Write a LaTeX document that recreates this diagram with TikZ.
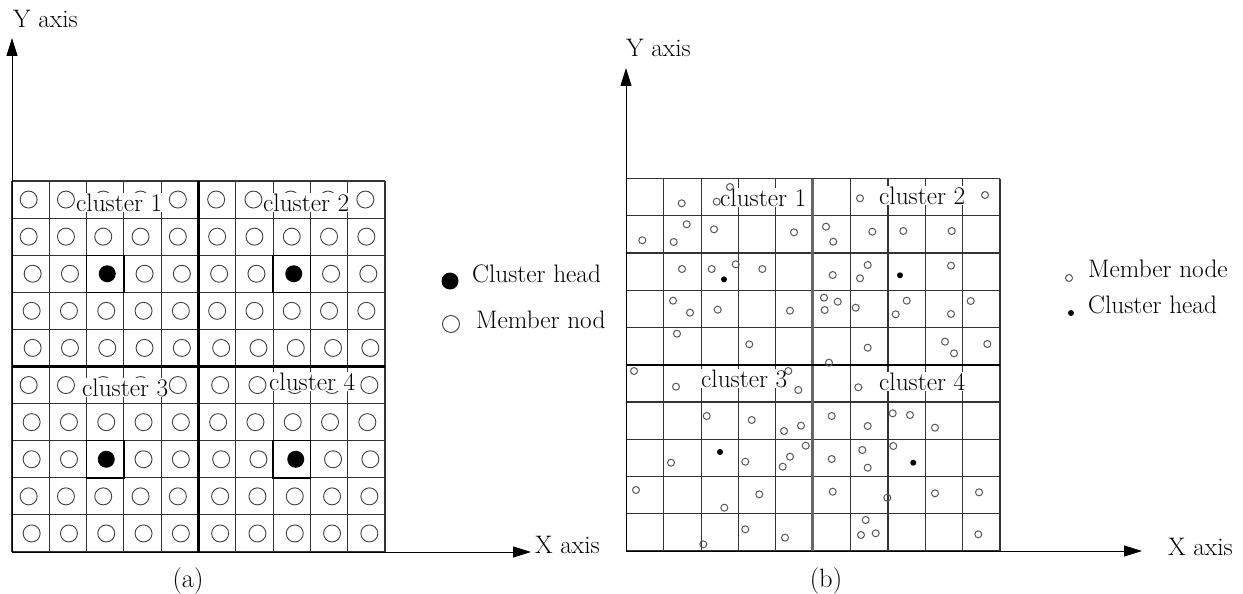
\documentclass[tikz,border=0pt]{standalone}
\usetikzlibrary{arrows.meta}
\begin{document}
\begin{tikzpicture}[x=1pt,y=-1pt,
  txt/.style={font=\fontsize{25.3}{29}\selectfont, inner sep=0pt, anchor=base west},
  clab/.style={font=\fontsize{25.3}{29}\selectfont, fill=white, inner xsep=0.5pt, inner ysep=0.5pt, anchor=base west},
  gridline/.style={draw=black!80, line width=1.1pt},
  axis/.style={draw=black, line width=1pt, -{Triangle[length=18pt,width=11pt]}},
  bigmember/.style={circle, draw=black!75, line width=0.9pt, minimum size=17pt, inner sep=0pt},
  bighead/.style={circle, fill=black, minimum size=17pt, inner sep=0pt},
  smallmember/.style={circle, draw=black!65, line width=1pt, minimum size=7pt, inner sep=0pt},
  smallhead/.style={circle, fill=black, minimum size=6pt, inner sep=0pt},
  headbox/.style={draw=black, line width=1.4pt},
]
\useasboundingbox (0,0) rectangle (1243,594);
\fill[white] (0,0) rectangle (1243,594);

% ---------------- (a) ----------------
\foreach \i in {0,...,10} { \draw[gridline] ({12+\i*37.3},181) -- ({12+\i*37.3},552); }
\foreach \j in {0,...,10} { \draw[gridline] (12,{181+\j*37.1}) -- (385,{181+\j*37.1}); }
\foreach \c/\r in {3/3,8/3,3/8,8/8} {
  \draw[headbox] ({12+(\c-1)*37.3},{181+(\r-1)*37.1}) rectangle ++(37.3,37.1);
}
\draw[draw=black, line width=2.5pt] (198.5,181) -- (198.5,552);
\draw[draw=black, line width=2.5pt] (12,366.5) -- (385,366.5);

\foreach \r in {1,...,10} {
  \foreach \c in {1,...,10} {
    \pgfmathtruncatemacro{\k}{(\c>5)*10+\r-1}
    \pgfmathsetmacro{\dx}{{-2,-2,2,1,2,-2,1,1,-2,1,-1,0,2,0,4,3,1,4,3,3}[\k]}
    \pgfmathsetmacro{\cx}{12+(\c-0.5)*37.3+\dx}
    \pgfmathsetmacro{\cy}{181+(\r-0.5)*37.1}
    \pgfmathtruncatemacro{\h}{((\c==3)||(\c==8))&&((\r==3)||(\r==8))}
    \ifnum\h=1
      \node[bighead] (a-\c-\r) at (\cx,\cy) {};
    \else
      \node[bigmember] (a-\c-\r) at (\cx,\cy) {};
    \fi
  }
}
\node[clab] (al1) at (75.5,211) {cluster 1};
\node[clab] (al2) at (262.5,211.5) {cluster 2};
\node[clab] (al3) at (81.5,396.5) {cluster 3};
\node[clab] (al4) at (268.5,390.5) {cluster 4};

% legend (a)
\node[bighead] (lah) at (450,281) {};
\node[txt] (laht) at (472,282) {Cluster head};
\node[bigmember] (lam) at (451,324) {};
\begin{scope}
  \clip (440,295) rectangle (605,345);
  \node[txt] (lamt) at (476,328) {Member node};
\end{scope}

% axes (a)
\coordinate (oa) at (12,552);
\coordinate (ya) at (12,38);
\coordinate (xa) at (531,552);
\draw[axis] (oa) -- (ya);
\draw[axis] (oa) -- (xa);
\node[txt] (yat) at (13,28) {Y axis};
\node[txt] (xat) at (535,553) {X axis};
\node[font=\fontsize{26.5}{30}\selectfont, inner sep=0pt, anchor=base] (capa) at (188,587) {(a)};

% ---------------- (b) ----------------
\foreach \i in {0,...,10} { \draw[gridline] ({626.5+\i*37.35},178.5) -- ({626.5+\i*37.35},551); }
\foreach \j in {0,...,10} { \draw[gridline] (626.5,{178.5+\j*37.25}) -- (1000,{178.5+\j*37.25}); }
\draw[draw=black!60, line width=3pt] (812,178.5) -- (812,551);
\draw[draw=black, line width=2pt] (626.5,364.5) -- (1000,364.5);

\node[clab] (bl1) at (719.5,206) {cluster 1};
\node[clab] (bl2) at (878.5,204.5) {cluster 2};
\node[clab] (bl3) at (700.5,387.5) {cluster 3};
\node[clab] (bl4) at (878.5,390) {cluster 4};

\foreach \x/\y [count=\n] in {730/187, 681.7/203.3, 716.7/201.7, 686.7/224.3, 714/229.3, 794/232.3, 642.3/240.3, 673.7/242, 682/269, 711.7/269, 735.7/264.3, 762.3/269, 673/300.7, 690/312.7, 717.7/309.7, 790/310.7, 677/333.7, 749.3/344.3,
860/198.3, 985/195, 826/226.7, 833.3/241.7, 872.3/231.7, 903.3/231, 951.7/231, 867.7/265, 860/278.3, 832.7/275, 951/265.7, 824/297.7, 837.7/301.7, 824.7/310, 855.7/307.7, 906.7/300.7, 895.7/314.3, 951/314, 970.7/301, 867.7/347.7, 945/341.7, 954/353.3, 987.3/344, 829/362.7,
634/371, 676/386.7, 788.3/371, 798.3/390, 706.7/416, 751.7/420, 784/431, 801/425.7, 805.7/445.7, 671/462.7, 745.3/461.7, 790/456.7, 782.7/466.7, 636/490, 759.3/494.3, 724.3/507.7, 745.3/529.3, 785/537.7, 703.3/544.3,
858.3/387.3, 831.7/416, 867.7/426, 892.7/413.3, 910/415, 935/427.7, 831.7/459, 862.3/450, 867.7/467.7, 893.3/446, 832.7/491.7, 887.3/497.7, 935/493.3, 979/492.3, 865.7/520, 861/535, 875.7/533.3, 978.3/534.3}
{ \node[smallmember] (bm\n) at (\x,\y) {}; }
\foreach \x/\y [count=\n] in {724/279.3, 900/275.3, 720/452, 913.3/462.7}
{ \node[smallhead] (bh\n) at (\x,\y) {}; }

% legend (b)
\node[smallmember] (lbm) at (1069,278) {};
\node[txt] (lbmt) at (1088,277) {Member node};
\node[smallhead] (lbh) at (1071,313) {};
\node[txt] (lbht) at (1088,313) {Cluster head};

% axes (b)
\coordinate (ob) at (626,551);
\coordinate (yb) at (626,68);
\coordinate (xb) at (1142,551);
\draw[axis] (ob) -- (yb);
\draw[axis] (ob) -- (xb);
\node[txt] (ybt) at (626,57) {Y axis};
\node[txt] (xbt) at (1168,555) {X axis};
\node[font=\fontsize{26.5}{30}\selectfont, inner sep=0pt, anchor=base] (capb) at (826,587) {(b)};
\end{tikzpicture}
\end{document}
